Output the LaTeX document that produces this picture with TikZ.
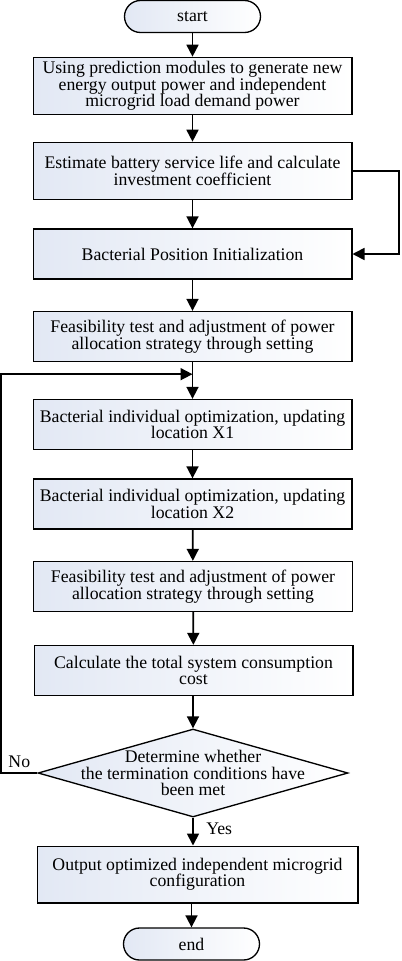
\documentclass[tikz,border=0pt]{standalone}
\usepackage{fontspec}
\setmainfont{Liberation Serif}
\usepackage{tikz}
\usetikzlibrary{arrows.meta,positioning,shapes.geometric}
\definecolor{boxblue}{HTML}{E2E8F4}

\begin{document}
\begin{tikzpicture}[x=0.75pt,y=-0.75pt,
  txt/.style={font=\fontsize{13.3}{12.3}\selectfont,align=center},
  proc/.style={txt,draw,line width=1pt,left color=boxblue,right color=white,minimum width=239pt,minimum height=37.5pt,inner sep=1pt},
  term/.style={txt,draw,line width=1pt,left color=boxblue,right color=white,rounded corners=12pt,minimum width=102pt,minimum height=24pt},
  decision/.style={draw,diamond,line width=1pt,left color=boxblue,right color=white,minimum width=232.5pt,minimum height=66pt,inner sep=0pt},
  arr/.style={line width=1.3pt,-{Triangle[length=9pt,width=9pt]}}]
\useasboundingbox (0,0) rectangle (401,961);
\node[term](start) at (192.5,16.5){start};
\node[proc,minimum height=43pt](p1) at (192.5,86){Using prediction modules to generate new\\energy output power and independent\\microgrid load demand power};
\node[proc,minimum height=43pt](p2) at (192.5,171){Estimate battery service life and calculate\\investment coefficient};
\node[proc](p3) at (192.5,254){Bacterial Position Initialization};
\node[proc](p4) at (192.5,336.5){Feasibility test and adjustment of power\\allocation strategy through setting};
\node[proc](p5) at (192.5,424.5){Bacterial individual optimization, updating\\location X1};
\node[proc](p6) at (192.5,504){Bacterial individual optimization, updating\\location X2};
\node[proc](p7) at (193,586.5){Feasibility test and adjustment of power\\allocation strategy through setting};
\node[proc](p8) at (193.5,670.5){Calculate the total system consumption\\cost};
\node[decision,label={[txt]center:Determine whether\\the termination conditions have\\been met}](dec) at (193,773){};
\node[proc,minimum height=42.5pt,minimum width=240.5pt](p9) at (197.5,874.5){Output optimized independent microgrid\\configuration};
\node[term](stop) at (191.5,944){end};
\coordinate[below=9pt of p4.south](jn);
% main flow
\draw[arr] (start)--(p1);\draw[arr] (p1)--(p2);\draw[arr] (p2)--(p3);
\draw[arr] (p3)--(p4);\draw[arr] (p4)--(p5);\draw[arr] (p5)--(p6);
\draw[arr] (p6)--(p7);\draw[arr] (p7)--(p8);\draw[arr] (p8.south-|dec)--(dec);
\draw[arr] (dec.south)--node[txt,right=6pt,pos=0.4]{Yes}(dec.south|-p9.north);
\draw[arr] (p9.south-|stop)--(stop);
% feedback paths
\draw[arr] (p2.east)--++(35pt,0)|-(p3.east);
\draw[arr] (dec.west)--node[txt,above,pos=0.5]{No}++(-27pt,0)|-(jn);
\end{tikzpicture}
\end{document}
